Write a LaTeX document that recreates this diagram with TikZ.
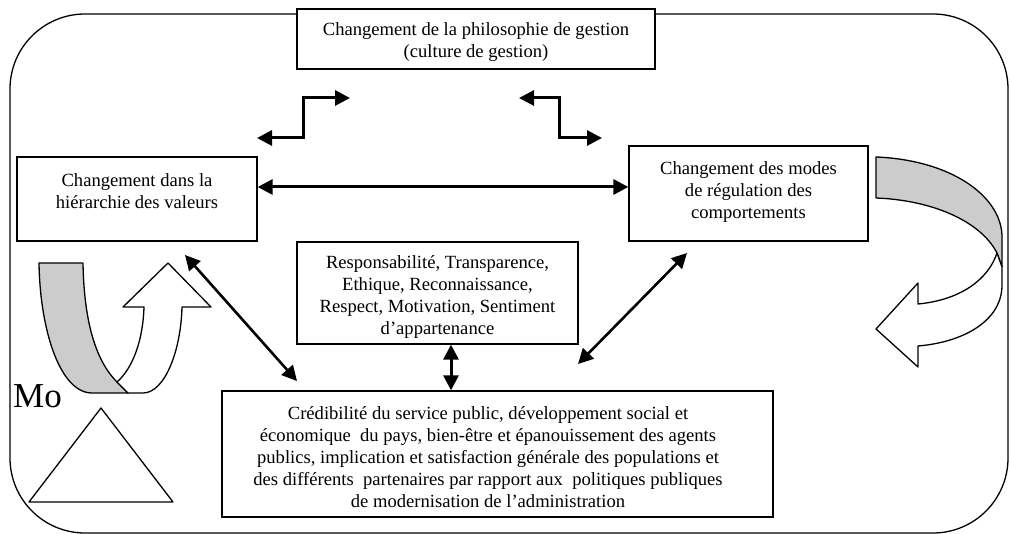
\documentclass[tikz,border=0pt]{standalone}
\usepackage{fontspec}
\setmainfont{Liberation Serif}
\usetikzlibrary{arrows.meta}
\tikzset{
  boxshape/.style={draw, line width=1.3pt, fill=white, inner sep=0pt},
  txt/.style={align=center, font=\fontsize{18.6}{22}\selectfont, inner sep=0pt},
  arr/.style={line width=3pt, {Triangle[length=15pt,width=15pt]}-{Triangle[length=15pt,width=15pt]}},
  shapeline/.style={line width=1.3pt, line join=round},
}
\begin{document}
\begin{tikzpicture}[x=1pt, y=-1pt]
\useasboundingbox (0,0) rectangle (1010,534);
% outer frame
\draw[line width=1.3pt, rounded corners=75pt] (10,14) rectangle (1008,533);

% boxes
\node[boxshape, minimum width=358pt, minimum height=60pt] (top) at (476,39) {};
\node[boxshape, minimum width=240pt, minimum height=84pt] (left) at (137,199) {};
\node[boxshape, minimum width=239pt, minimum height=95pt] (right) at (748.5,193.5) {};
\node[boxshape, minimum width=281pt, minimum height=102pt] (mid) at (437.5,293) {};
\node[boxshape, minimum width=551pt, minimum height=126pt] (bot) at (497.5,454) {};

% texts
\node[txt] (toptxt) at (476,42) {Changement de la philosophie de gestion\\(culture de gestion)};
\node[txt] (lefttxt) at (137,191) {Changement dans la\\hiérarchie des valeurs};
\node[txt] (righttxt) at (748.5,192) {Changement des modes\\de régulation des\\comportements};
\node[txt] (midtxt) at (437.5,297) {Responsabilité, Transparence,\\Ethique, Reconnaissance,\\Respect, Motivation, Sentiment\\d’appartenance};
\node[txt] (bottxt) at (488,457) {Crédibilité du service public, développement social et\\économique\ \ du pays, bien-être et épanouissement des agents\\publics, implication et satisfaction générale des populations et\\des différents\ \ partenaires par rapport aux\ \ politiques publiques\\de modernisation de l’administration};

\node[font=\fontsize{35}{40}\selectfont, inner sep=0pt, anchor=base west] (mo) at (13,408) {Mo};

% connectors
\coordinate (hy) at (0,187);
\coordinate (vx) at (451,0);
\draw[arr] (left.east |- hy) -- (right.west |- hy);
\draw[arr] (mid.south -| vx) -- (bot.north -| vx);

\coordinate (e1a) at (257,138);
\coordinate (e1b) at (350,98);
\draw[arr] (e1a) -- ++(46,0) |- (e1b);
\coordinate (e2a) at (519,98);
\coordinate (e2b) at (602,138);
\draw[arr] (e2a) -- ++(40,0) |- (e2b);

\coordinate (d1a) at (185,255);
\coordinate (d1b) at (297,381);
\draw[arr, line width=2.6pt] (d1a) -- (d1b);
\coordinate (d2a) at (578,364);
\coordinate (d2b) at (687,253);
\draw[arr, line width=2.6pt] (d2a) -- (d2b);

% left curved arrow
\filldraw[shapeline, fill=gray!40] (39,263) -- (83,263) .. controls (84,320) and (95,360) .. (117,382) -- (128,393) -- (92,393) .. controls (60,393) and (40,330) .. (39,263) -- cycle;
\filldraw[shapeline, fill=white] (117,382) -- (128,393) -- (143,393) .. controls (165,393) and (181,350) .. (182,307) -- (211,307) -- (168,263) -- (123,307) -- (144,307) .. controls (143,340) and (133,368) .. (117,382) -- cycle;

% right curved arrow
\filldraw[shapeline, fill=gray!40] (876,157) -- (876,198) .. controls (930,200) and (980,220) .. (997,253) -- (1002,267) -- (1002,235) .. controls (1000,195) and (950,160) .. (876,157) -- cycle;
\filldraw[shapeline, fill=white] (997,253) -- (1002,267) -- (1002,285) .. controls (1002,320) and (965,342) .. (918,346) -- (918,367) -- (876,329) -- (918,283) -- (918,304) .. controls (960,300) and (988,280) .. (997,253) -- cycle;

% triangle
\draw[shapeline] (101,408) -- (173,502) -- (29,502) -- cycle;
\end{tikzpicture}
\end{document}
